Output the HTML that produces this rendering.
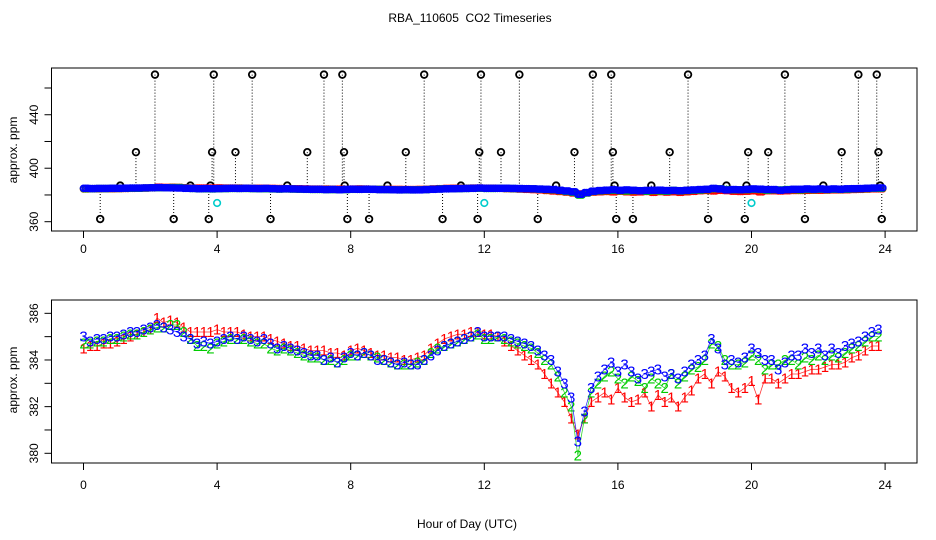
<!DOCTYPE html>
<html><head><meta charset="utf-8"><style>
html,body{margin:0;padding:0;background:#fff;}
svg{display:block;font-family:"Liberation Sans",sans-serif;}
</style></head><body>
<svg id="chart" width="936" height="540" viewBox="0 0 936 540" xmlns="http://www.w3.org/2000/svg">
<text x="470" y="22" font-size="12" text-anchor="middle">RBA_110605&#160; CO2 Timeseries</text>
<text x="467" y="528" font-size="12" text-anchor="middle">Hour of Day (UTC)</text>
<text transform="translate(17,150) rotate(-90)" font-size="12" text-anchor="middle">approx. ppm</text>
<text transform="translate(17,380) rotate(-90)" font-size="12" text-anchor="middle">approx. ppm</text>
<rect x="51.5" y="68" width="865.5" height="163" fill="none" stroke="#000"/>
<rect x="51.5" y="300" width="865.5" height="163" fill="none" stroke="#000"/>
<g id="topg"></g>
<g id="botg"></g>
</svg>
<script>
const xTicks = [0,4,8,12,16,20,24];
const topYTicks = [360,380,400,420,440,460];
const topYLabels = [360,400,440];
const botYTicks = [380,381,382,383,384,385,386];
const botYLabels = [380,382,384,386];
const s3 = [385.0,384.8,384.9,384.9,385.0,385.0,385.1,385.2,385.2,385.3,
385.4,385.5,385.4,385.3,385.2,385.0,384.9,384.7,384.8,384.7,
384.8,384.9,385.0,384.9,385.0,384.9,384.8,384.9,384.7,384.5,
384.6,384.5,384.4,384.3,384.2,384.2,384.0,384.1,383.9,384.1,
384.3,384.2,384.3,384.2,384.0,384.0,383.9,383.8,383.9,383.8,
383.8,384.0,384.2,384.4,384.6,384.7,384.8,384.9,385.0,385.2,
385.0,385.0,385.0,385.0,384.9,384.8,384.7,384.6,384.4,384.2,
384.0,383.5,383.0,382.4,380.5,381.8,382.8,383.3,383.6,383.9,
383.5,383.8,383.5,383.2,383.4,383.5,383.6,383.3,383.4,383.2,
383.5,383.8,384.0,384.2,384.9,384.5,383.8,384.0,383.9,384.1,
384.5,384.3,384.0,384.0,383.6,383.9,384.2,384.2,384.5,384.3,
384.5,384.2,384.5,384.3,384.6,384.7,384.8,385.0,385.2,385.3];
const s2 = [384.7,384.7,384.8,384.8,384.9,384.9,385.0,385.1,385.1,385.2,
385.3,385.4,385.4,385.5,385.5,385.2,384.9,384.6,384.6,384.5,
384.7,384.8,384.9,384.9,384.9,384.8,384.7,384.7,384.5,384.4,
384.5,384.4,384.3,384.2,384.1,384.1,384.0,384.0,383.9,384.0,
384.2,384.2,384.3,384.2,384.1,384.0,383.9,383.8,383.8,383.8,
383.9,384.0,384.3,384.5,384.6,384.7,384.8,384.9,385.0,385.1,
384.9,384.9,385.0,384.9,384.8,384.7,384.6,384.5,384.3,384.0,
383.8,383.3,382.6,382.0,379.9,381.5,382.6,383.0,383.3,383.5,
383.2,383.0,383.3,383.1,382.8,383.2,383.0,382.8,383.4,383.0,
383.3,383.6,383.7,384.0,384.7,384.6,384.0,383.8,383.8,383.9,
384.2,384.0,383.6,383.8,383.8,384.0,384.0,383.8,384.1,384.0,
384.2,384.0,384.2,384.1,384.3,384.5,384.6,384.8,385.0,385.0];
const s1 = [384.5,384.6,384.6,384.7,384.7,384.8,384.9,385.0,385.1,385.2,
385.3,385.8,385.6,385.7,385.6,385.4,385.2,385.2,385.2,385.2,
385.3,385.2,385.2,385.2,385.1,385.0,385.0,385.0,384.9,384.8,
384.7,384.6,384.6,384.5,384.4,384.4,384.4,384.3,384.3,384.2,
384.4,384.5,384.4,384.3,384.2,384.2,384.1,384.1,384.0,384.0,
384.1,384.2,384.5,384.7,384.9,385.0,385.1,385.1,385.2,385.2,
385.1,385.1,385.0,384.8,384.6,384.4,384.2,384.0,383.8,383.4,
383.0,382.6,382.2,381.5,380.8,381.5,382.2,382.4,382.6,382.3,
382.8,382.4,382.2,382.3,382.6,382.0,382.5,382.2,382.4,382.0,
382.4,382.7,383.2,383.4,383.0,383.5,383.3,382.8,382.6,382.8,
383.1,382.3,383.2,383.2,383.0,383.2,383.4,383.4,383.5,383.6,
383.6,383.7,383.8,383.8,383.9,384.1,384.2,384.4,384.6,384.6];
const outHours = [0.5,1.1,1.57,2.14,2.7,3.2,3.75,3.8,3.85,3.9,4.55,5.05,5.6,6.1,6.7,7.2,7.75,7.8,7.82,7.9,8.55,9.1,9.65,10.2,10.75,11.3,11.8,11.85,11.9,12.5,13.05,13.6,14.15,14.7,15.25,15.8,15.85,15.9,15.95,16.45,17.0,17.55,18.1,18.7,19.25,19.8,19.85,19.9,20.5,21.0,21.6,22.15,22.7,23.2,23.75,23.8,23.85,23.9];
const outVals = [362,387,412,470,362,387,362,387,412,470,412,470,362,387,412,470,470,412,387,362,362,387,412,470,362,387,362,412,470,412,470,362,387,412,470,470,412,387,362,362,387,412,470,362,387,362,387,412,412,470,362,387,412,470,470,412,387,362];
const cyanHours = [4.0,12.0,20.0];
const cyanVals = [374,374,374];

const NS="http://www.w3.org/2000/svg";
const X = h => 83.5 + h*33.4;
const YT = v => 221.7 - (v-360)*1.337;
const YB = v => 453.3 - (v-380)*23.33;
const hourOf = i => i*0.2;
function mk(tag, parent, attrs){const e=document.createElementNS(NS,tag);for(const k in attrs)e.setAttribute(k,attrs[k]);parent.appendChild(e);return e;}
const gTop=document.getElementById('topg'), gBot=document.getElementById('botg');

[[231,253,'top'],[463,489,'bottom']].forEach(([y0,ly,nm])=>{
  const g=mk('g',nm==='top'?gTop:gBot,{});
  
  
  mk('line',g,{x1:X(0),x2:X(24),y1:y0,y2:y0,stroke:'#000'});
  xTicks.forEach(t=>{
    mk('line',g,{x1:X(t),x2:X(t),y1:y0,y2:y0+7,stroke:'#000'});
    const tx=mk('text',g,{x:X(t),y:ly,'font-size':12,'text-anchor':'middle'});tx.textContent=t;
  });
});
const gy1=mk('g',gTop,{});


mk('line',gy1,{x1:51.5,x2:51.5,y1:YT(360),y2:YT(460),stroke:'#000'});
topYTicks.forEach(t=>mk('line',gy1,{x1:44.5,x2:51.5,y1:YT(t),y2:YT(t),stroke:'#000'}));
topYLabels.forEach(t=>{const e=mk('text',gy1,{transform:`translate(38,${YT(t)}) rotate(-90)`,'font-size':12,'text-anchor':'middle'});e.textContent=t;});
const gy2=mk('g',gBot,{});


mk('line',gy2,{x1:51.5,x2:51.5,y1:YB(380),y2:YB(386),stroke:'#000'});
botYTicks.forEach(t=>mk('line',gy2,{x1:44.5,x2:51.5,y1:YB(t),y2:YB(t),stroke:'#000'}));
botYLabels.forEach(t=>{const e=mk('text',gy2,{transform:`translate(38,${YB(t)}) rotate(-90)`,'font-size':12,'text-anchor':'middle'});e.textContent=t;});

const go=mk('g',gTop,{});


outHours.forEach((h,i)=>{
  mk('line',go,{x1:X(h),x2:X(h),y1:YT(outVals[i]),y2:YT(385),stroke:'#000','stroke-dasharray':'1,2'});
});
[[s1,'#f00','series-1-top'],[s2,'#0c0','series-2-top'],[s3,'#00f','series-3-top']].forEach(([arr,col,nm])=>{
  const g=mk('g',gTop,{});
  
  
  arr.forEach((v,i)=>{
    for(let k=0;k<3;k++) mk('circle',g,{cx:X(hourOf(i))+k*2.2,cy:YT(v),r:2.9,fill:'none',stroke:col,'stroke-width':1.8});
  });
});
outHours.forEach((h,i)=>{
  const c=mk('circle',go,{cx:X(h),cy:YT(outVals[i]),r:3.3,fill:'none',stroke:'#000','stroke-width':1.8});
  
  
});
cyanHours.forEach((h,i)=>{
  const c=mk('circle',gTop,{cx:X(h),cy:YT(cyanVals[i]),r:3.3,fill:'none',stroke:'#0cc','stroke-width':1.6});
  
  
});

[[s1,'#f00','1','series-1'],[s2,'#0c0','2','series-2'],[s3,'#00f','3','series-3']].forEach(([arr,col,ch,nm])=>{
  const g=mk('g',gBot,{});
  
  
  const pts=arr.map((v,i)=>X(hourOf(i))+','+YB(v)).join(' ');
  mk('polyline',g,{points:pts,fill:'none',stroke:col,'stroke-width':0.8,'stroke-opacity':0.8});
  arr.forEach((v,i)=>{
    const t=mk('text',g,{x:X(hourOf(i)),y:YB(v)+5,'font-size':15,'text-anchor':'middle',fill:col});
    t.textContent=ch;
  });
});
</script>
</body></html>
